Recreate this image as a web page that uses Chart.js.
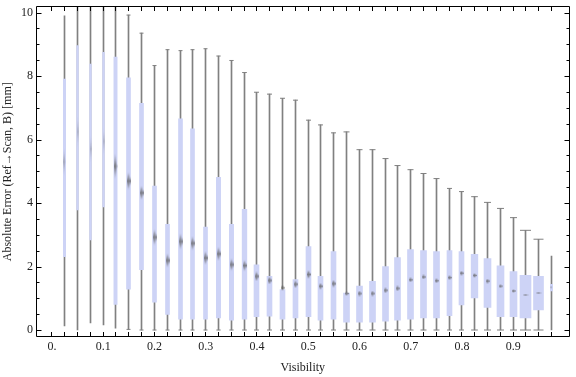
<!DOCTYPE html>
<html lang="en">
<head>
<meta charset="UTF-8">
<title>Absolute error vs visibility</title>
<script src="https://cdn.jsdelivr.net/npm/chart.js"></script>
<style>
  html, body { margin: 0; padding: 0; background: #fff; }
</style>
</head>
<body>
<canvas id="chart" width="576" height="377"></canvas>
<script>
// one box per visibility bin
const visibility = [0.025, 0.05, 0.075, 0.1, 0.125, 0.15, 0.175, 0.2, 0.225, 0.25,
  0.275, 0.3, 0.325, 0.35, 0.375, 0.4, 0.425, 0.45, 0.475, 0.5,
  0.525, 0.55, 0.575, 0.6, 0.625, 0.65, 0.675, 0.7, 0.725, 0.75,
  0.775, 0.8, 0.825, 0.85, 0.875, 0.9, 0.925, 0.95, 0.975];
const whiskerLow = [0.13, 0.00, 0.22, 0.16, 0.06, 0.02, 0, 0, 0, 0,
  0, 0, 0, 0, 0, 0, 0, 0, 0, 0,
  0, 0, 0, 0, 0, 0, 0, 0, 0, 0,
  0, 0, 0, 0, 0, 0, 0, 0, 0];
const q1 = [2.31, 3.78, 2.84, 3.88, 0.81, 1.29, 1.90, 0.88, 0.49, 0.34,
  0.34, 0.34, 0.38, 0.31, 0.34, 0.42, 0.44, 0.34, 0.38, 0.42,
  0.31, 0.34, 0.25, 0.25, 0.25, 0.28, 0.31, 0.34, 0.38, 0.38,
  0.45, 0.79, 1.01, 0.71, 0.42, 0.42, 0.38, 0.63, 1.23];
const median = [5.30, 6.25, 5.70, 5.94, 5.16, 4.69, 4.32, 2.92, 2.19, 2.79,
  2.73, 2.27, 2.40, 2.06, 2.03, 1.69, 1.56, 1.33, 1.44, 1.75,
  1.38, 1.46, 1.15, 1.15, 1.15, 1.25, 1.31, 1.58, 1.67, 1.55,
  1.65, 1.79, 1.72, 1.54, 1.38, 1.23, 1.10, 1.18, 1.35];
const q3 = [7.90, 8.96, 8.38, 8.75, 8.60, 7.94, 7.14, 4.53, 3.33, 6.65,
  6.34, 3.24, 4.81, 3.33, 3.80, 2.05, 1.69, 1.27, 1.59, 2.63,
  1.69, 2.47, 1.16, 1.38, 1.53, 2.00, 2.28, 2.53, 2.50, 2.47,
  2.50, 2.47, 2.38, 2.25, 2.02, 1.84, 1.72, 1.69, 1.44];
const whiskerHigh = [9.90, 10.6, 10.6, 10.6, 10.6, 9.92, 9.35, 8.33, 8.83, 8.80,
  8.83, 8.86, 8.63, 8.49, 8.11, 7.49, 7.43, 7.30, 7.24, 6.61,
  6.46, 6.21, 6.24, 5.68, 5.68, 5.40, 5.18, 5.05, 4.93, 4.77,
  4.46, 4.36, 4.20, 4.02, 3.83, 3.54, 3.14, 2.86, 2.33];

const xTickValues = [0, 0.1, 0.2, 0.3, 0.4, 0.5, 0.6, 0.7, 0.8, 0.9];
const xTickLabels = ['0.', '0.1', '0.2', '0.3', '0.4', '0.5', '0.6', '0.7', '0.8', '0.9'];
const yTickValues = [0, 2, 4, 6, 8, 10];
const yTickLabels = ['0', '2', '4', '6', '8', '10'];

// drawing style per box: width in px, height of the median smudge in px
const boxWidth = [2.3, 1.7, 1.7, 1.7, 3.3, 4, 4, 4, 4, 4,
  4, 4, 4.3, 4.3, 4.7, 5, 5, 5, 5, 5,
  5, 5, 6, 6, 6, 6, 6, 6, 6, 6,
  5, 5, 6.7, 7, 7, 7, 11, 10, 2.3];
const markHeight = [30, 34, 30, 30, 28, 20, 16, 18, 16, 18,
  16, 16, 16, 14, 13, 10, 8, 6, 8, 9,
  7, 8, 5, 6, 6, 6, 6, 5, 5, 5,
  5, 5, 5, 5, 4, 4, 2, 2, 3];

const GRAY = 'rgb(128,128,128)';
const BOX = 'rgb(205,211,246)';
const TEXT = '#222';

Chart.defaults.font.family = "'Liberation Serif', 'Times New Roman', serif";
Chart.defaults.font.size = 12;
Chart.defaults.color = TEXT;

// blurred diamond used as median mark
function makeMark(w, h, alpha) {
  const c = document.createElement('canvas');
  c.width = Math.max(1, Math.ceil(w));
  c.height = Math.max(1, Math.ceil(h));
  const g = c.getContext('2d');
  const edge = h > 10 ? 0 : alpha * 0.4;
  const grad = g.createLinearGradient(0, 0, 0, h);
  grad.addColorStop(0, 'rgba(95,95,95,' + edge + ')');
  grad.addColorStop(0.5, 'rgba(95,95,95,' + alpha + ')');
  grad.addColorStop(1, 'rgba(95,95,95,' + edge + ')');
  g.fillStyle = grad;
  g.beginPath();
  g.moveTo(w / 2, 0);
  g.lineTo(w, h / 2);
  g.lineTo(w / 2, h);
  g.lineTo(0, h / 2);
  g.closePath();
  g.fill();
  return c;
}
const markStyle = markHeight.map((h, i) => {
  if (h < 3) return makeMark(6, h, 0.7);
  const w = Math.min(4, boxWidth[i]);
  return makeMark(w, h, boxWidth[i] < 3 ? 0.35 : 0.75);
});
const capRadius = boxWidth.map(w => w > 3.5 ? Math.max(2, w / 2) : 0);

const whiskerData = visibility.map((v, i) => ({x: v, y: [whiskerLow[i], whiskerHigh[i]]}));
const boxData = visibility.map((v, i) => ({x: v, y: [q1[i], q3[i]]}));
const capData = visibility.map((v, i) => ({x: v, y: whiskerLow[i]}))
  .concat(visibility.map((v, i) => ({x: v, y: whiskerHigh[i]})));
const medianData = visibility.map((v, i) => ({x: v, y: median[i]}));

// per-box widths, and snap the 1px whiskers to whole pixels so they stay crisp
const boxWidthPlugin = {
  id: 'boxWidth',
  afterDatasetsUpdate(chart) {
    chart.getDatasetMeta(2).data.forEach((el, i) => {
      el.width = boxWidth[i];
      el.x = Math.floor(el.x) + 0.5;
    });
    chart.getDatasetMeta(3).data.forEach(el => { el.x = Math.floor(el.x) + 0.5; });
    chart.getDatasetMeta(1).data.forEach(el => { el.x = Math.floor(el.x) + 0.5; });
    chart.getDatasetMeta(0).data.forEach(el => { el.x = Math.floor(el.x) + 0.5; });
  }
};

// frame with inward ticks on all four sides
const framePlugin = {
  id: 'frame',
  afterDatasetsDraw(chart) {
    const {ctx, chartArea: a, scales: {x, y}} = chart;
    const L = Math.floor(a.left) + 0.5, R = Math.floor(a.right) + 0.5;
    const T = Math.floor(a.top) + 0.5, B = Math.round(a.bottom) - 0.5;
    ctx.save();
    ctx.strokeStyle = '#000';
    ctx.lineWidth = 1;
    ctx.beginPath();
    ctx.moveTo(L, T); ctx.lineTo(R, T); ctx.lineTo(R, B); ctx.lineTo(L, B); ctx.closePath();
    const xt = [0].concat(visibility);
    xt.forEach(v => {
      const px = Math.floor(x.getPixelForValue(v)) + 0.5;
      ctx.moveTo(px, B); ctx.lineTo(px, B - 4.5);
      ctx.moveTo(px, T); ctx.lineTo(px, T + 4.5);
    });
    for (let v = 0; v <= 10; v += 0.5) {
      const py = Math.round(y.getPixelForValue(v)) + 0.5;
      const len = v % 2 === 0 ? 5 : 3;
      ctx.moveTo(L, py); ctx.lineTo(L + len, py);
      ctx.moveTo(R, py); ctx.lineTo(R - len, py);
    }
    ctx.stroke();
    ctx.restore();
  }
};

new Chart(document.getElementById('chart'), {
  type: 'bar',
  data: {
    datasets: [
      {
        type: 'scatter', data: medianData, order: 0,
        pointStyle: markStyle, pointRadius: 3, pointHoverRadius: 3
      },
      {
        type: 'scatter', data: capData, order: 1,
        pointStyle: 'line', pointRadius: capRadius.concat(capRadius),
        pointBorderColor: GRAY, pointBorderWidth: 1
      },
      {
        type: 'bar', data: boxData, order: 2, grouped: false,
        barThickness: 4, backgroundColor: BOX, borderWidth: 0
      },
      {
        type: 'bar', data: whiskerData, order: 3, grouped: false,
        barThickness: 1, backgroundColor: GRAY, borderWidth: 0
      }
    ]
  },
  options: {
    responsive: false,
    animation: false,
    events: [],
    layout: {padding: {top: 4, right: 1, left: 0, bottom: 0}},
    plugins: {legend: {display: false}, tooltip: {enabled: false}},
    scales: {
      x: {
        type: 'linear', min: -0.031, max: 1.01, offset: false,
        grid: {display: false, drawTicks: false}, border: {display: false},
        ticks: {
          padding: 3, maxRotation: 0, autoSkip: false, color: TEXT,
          callback: value => {
            const i = xTickValues.findIndex(t => Math.abs(t - value) < 1e-9);
            return i >= 0 ? xTickLabels[i] : '';
          }
        },
        afterBuildTicks: s => { s.ticks = xTickValues.map(v => ({value: v})); },
        afterFit: s => { s.height = 40; s.paddingLeft = 0; s.paddingRight = 0; },
        title: {display: true, text: 'Visibility', color: TEXT, padding: {top: 0, bottom: 2}}
      },
      y: {
        min: -0.22, max: 10.19,
        grid: {display: false, drawTicks: false}, border: {display: false},
        ticks: {
          padding: 3, color: TEXT,
          callback: value => {
            const i = yTickValues.indexOf(value);
            return i >= 0 ? yTickLabels[i] : '';
          }
        },
        afterBuildTicks: s => { s.ticks = yTickValues.map(v => ({value: v})); },
        afterFit: s => { s.width = 36; s.paddingTop = 0; s.paddingBottom = 0; },
        title: {display: true, text: 'Absolute Error (Ref→Scan, B) [mm]', color: TEXT, padding: {top: 1, bottom: 0}}
      }
    }
  },
  plugins: [boxWidthPlugin, framePlugin]
});
</script>
</body>
</html>
